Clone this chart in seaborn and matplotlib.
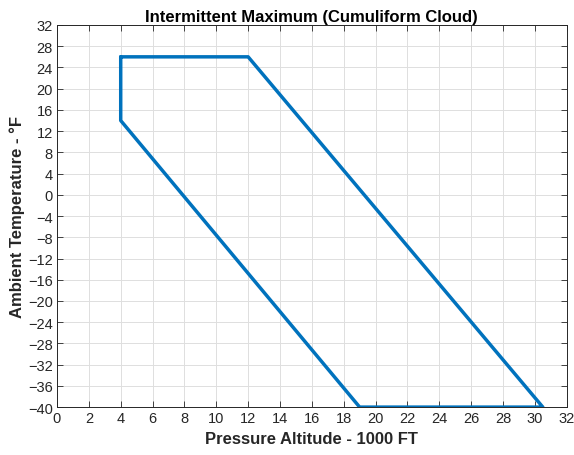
import matplotlib
matplotlib.use("Agg")
import matplotlib.pyplot as plt
import seaborn as sns
import pandas as pd
import numpy as np

altitude = [4, 12, 30.5, 19, 4, 4]
temperature = [26, 26, -40, -40, 14, 26]
x_ticks = list(range(0, 33, 2))
y_ticks = list(range(-40, 33, 4))

sns.set_theme(style="whitegrid")
plt.rcParams['font.family'] = ['Liberation Sans', 'DejaVu Sans']

df = pd.DataFrame({"alt": altitude, "temp": temperature, "order": range(len(altitude))})

fig = plt.figure(figsize=(5.74, 4.56), dpi=100)
ax = fig.add_axes([0.0993, 0.105, 0.888, 0.838])
sns.lineplot(data=df, x="alt", y="temp", sort=False, estimator=None, ax=ax,
             color="#0072BD", linewidth=2.5)
ax.set_xlim(0, 32)
ax.set_ylim(-40, 32)
ax.set_xticks(x_ticks)
ax.set_yticks(y_ticks)
ax.tick_params(axis='both', labelsize=10.5, colors='#262626', direction='in',
               length=4, width=0.6, top=True, right=True, bottom=True, left=True, pad=3)
ax.grid(True, color='#dedede', linewidth=0.7)
for s in ax.spines.values():
    s.set_color('#262626')
    s.set_linewidth(0.7)
ax.set_facecolor('white')
ax.set_xlabel("Pressure Altitude - 1000 FT", fontsize=12, fontweight='bold', color='#262626', labelpad=4)
ax.set_ylabel("Ambient Temperature - °F", fontsize=12, fontweight='bold', color='#262626', labelpad=2)
ax.set_title("Intermittent Maximum (Cumuliform Cloud)", fontsize=12, fontweight='bold', color='black', pad=3)
fig.savefig("out.png", dpi=100, facecolor='white')
